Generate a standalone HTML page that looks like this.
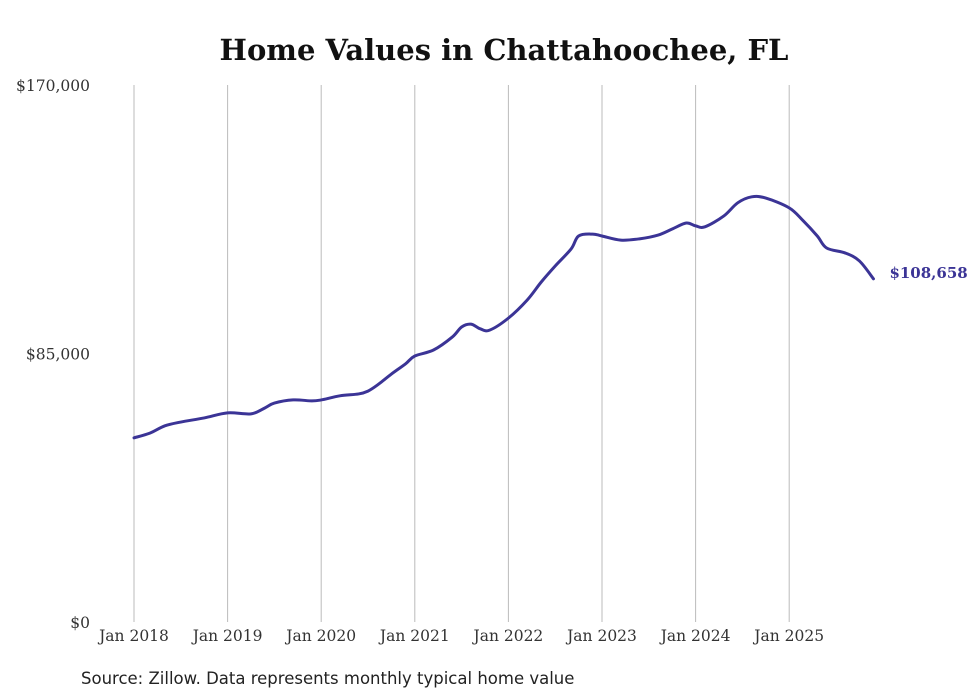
<!DOCTYPE html>
<html><head><meta charset="utf-8"><style>
body{margin:0;background:#fff;}
svg{display:block;}
</style></head><body>
<svg width="980" height="699" xmlns="http://www.w3.org/2000/svg">
<rect width="980" height="699" fill="#fff"/>
<text x="504" y="60" text-anchor="middle" font-family="DejaVu Serif, serif" font-weight="bold" font-size="29" fill="#111">Home Values in Chattahoochee, FL</text>
<g id="grid"></g>
<g id="yticks"></g>
<g id="xticks"></g>
<path id="line" fill="none" stroke="#3b3496" stroke-width="3" stroke-linejoin="round" stroke-linecap="round"/>
<text id="endlabel" font-family="DejaVu Serif, serif" font-weight="bold" font-size="15" fill="#3b3496"></text>
<text x="81" y="684" font-family="DejaVu Sans, sans-serif" font-size="16.5" fill="#222">Source: Zillow. Data represents monthly typical home value</text>
</svg>
<script>
const dates=[2018.0,2018.17,2018.33,2018.5,2018.75,2019.0,2019.25,2019.4,2019.5,2019.7,2019.9,2020.0,2020.2,2020.4,2020.5,2020.6,2020.75,2020.9,2021.0,2021.2,2021.4,2021.5,2021.6,2021.7,2021.8,2022.0,2022.2,2022.35,2022.5,2022.67,2022.75,2022.9,2023.0,2023.2,2023.4,2023.6,2023.75,2023.9,2024.0,2024.1,2024.3,2024.45,2024.6,2024.75,2025.0,2025.15,2025.3,2025.4,2025.6,2025.75,2025.9];
const values=[58.3,59.8,62.1,63.3,64.6,66.2,65.9,67.8,69.3,70.3,70.0,70.3,71.6,72.2,73.1,75.0,78.5,81.7,84.2,86.1,90.2,93.4,94.3,92.8,92.4,96.2,101.9,107.6,112.7,118.1,122.2,122.8,122.2,120.9,121.3,122.5,124.4,126.3,125.4,125.1,128.5,132.7,134.6,134.2,131.1,127.0,122.2,118.4,116.8,114.3,108.658];
const yTickValues=[0,85,170];
const yTickLabels=["$0","$85,000","$170,000"];
const xTickYears=[2018,2019,2020,2021,2022,2023,2024,2025];
const xTickLabels=["Jan 2018","Jan 2019","Jan 2020","Jan 2021","Jan 2022","Jan 2023","Jan 2024","Jan 2025"];
const lastLabel="$108,658";

const X=d=>134+(d-2018)*93.6;
const Y=v=>622-v/170*537;
const NS="http://www.w3.org/2000/svg";
const mk=(t,a,p)=>{const e=document.createElementNS(NS,t);for(const k in a)e.setAttribute(k,a[k]);p.appendChild(e);return e;};
const grid=document.getElementById('grid'),yt=document.getElementById('yticks'),xt=document.getElementById('xticks');
xTickYears.forEach((yr,i)=>{
  const l=mk('line',{x1:X(yr),x2:X(yr),y1:Y(170),y2:Y(0),stroke:'#bbb','stroke-width':1},grid);
  
  
  const t=mk('text',{x:X(yr),y:641,'text-anchor':'middle','font-family':'DejaVu Serif, serif','font-size':15.5,fill:'#333'},xt);
  t.textContent=xTickLabels[i];
  
  
});
yTickValues.forEach((v,i)=>{
  const t=mk('text',{x:90,y:Y(v)+6,'text-anchor':'end','font-family':'DejaVu Serif, serif','font-size':15.5,fill:'#333'},yt);
  t.textContent=yTickLabels[i];
  
  
});
const pts=dates.map((d,i)=>[X(d),Y(values[i])]);
let p='M'+pts[0][0]+','+pts[0][1];
for(let i=0;i<pts.length-1;i++){
  const p0=pts[Math.max(0,i-1)],p1=pts[i],p2=pts[i+1],p3=pts[Math.min(pts.length-1,i+2)];
  const c1=[p1[0]+(p2[0]-p0[0])/6,p1[1]+(p2[1]-p0[1])/6];
  const c2=[p2[0]-(p3[0]-p1[0])/6,p2[1]-(p3[1]-p1[1])/6];
  p+=`C${c1[0]},${c1[1]} ${c2[0]},${c2[1]} ${p2[0]},${p2[1]}`;
}
document.getElementById('line').setAttribute('d',p);
const el=document.getElementById('endlabel');
const last=pts[pts.length-1];
el.setAttribute('x',last[0]+16);
el.setAttribute('y',last[1]-1);
el.textContent=lastLabel;
</script>
</body></html>
